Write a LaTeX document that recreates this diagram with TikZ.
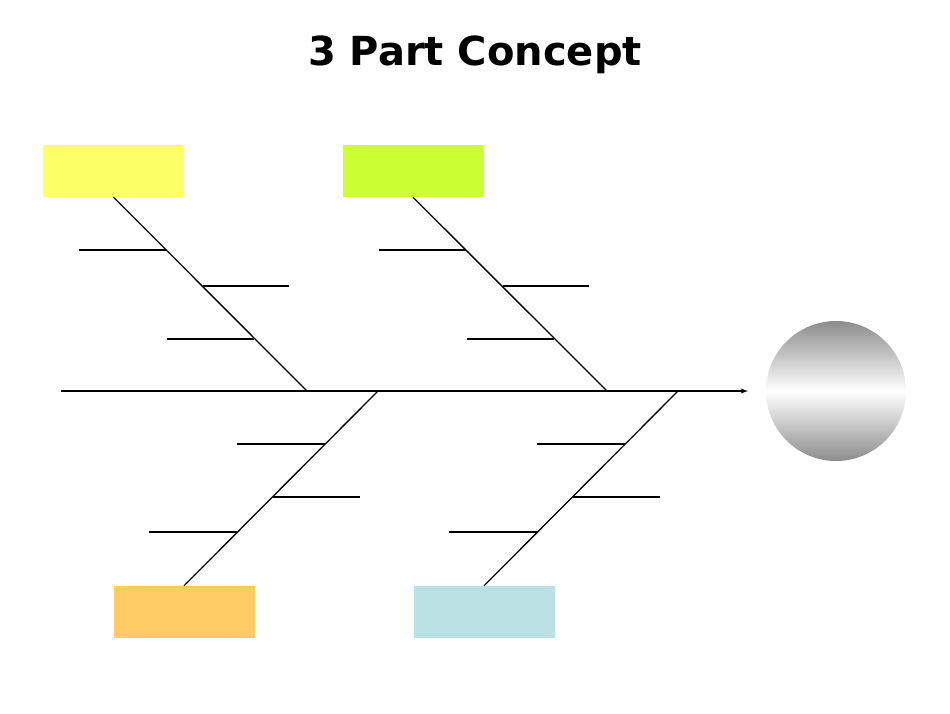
\documentclass[tikz,border=0pt]{standalone}
\usepackage{fontspec}
\setmainfont{DejaVu Sans}
\definecolor{capYellow}{HTML}{FFFF66}
\definecolor{capGreen}{HTML}{CCFF33}
\definecolor{capOrange}{HTML}{FFCC66}
\definecolor{capTeal}{HTML}{BBE0E3}
\tikzset{
  cause/.style={draw=none, minimum width=141pt, minimum height=52pt, inner sep=0pt},
  bone/.style={line width=1.3pt, black},
}
\begin{document}
\begin{tikzpicture}[x=1pt, y=-1pt]
    \useasboundingbox (0,0) rectangle (950,713);
    % Title
    \node[font=\bfseries\fontsize{40}{44}\selectfont] (title) at (475,55) {3 Part Concept};

    % Cause boxes
    \node[cause, fill=capYellow] (c1) at (113.5,171) {};
    \node[cause, fill=capGreen] (c2) at (413,171) {};
    \node[cause, fill=capOrange] (c3) at (184,612) {};
    \node[cause, fill=capTeal] (c4) at (484,612) {};

    % Effect (head)
    \shade[top color=gray!90, bottom color=gray!90, middle color=white] (836,391) circle (70);
    \coordinate (head) at (748,391);

    % Spine
    \coordinate (tail) at (61,391);
    \draw[bone, -latex] (tail) -- (head);

    % Main bones
    \coordinate (j1) at (307,391);
    \coordinate (j2) at (607,391);
    \coordinate (j3) at (378,391);
    \coordinate (j4) at (678,391);
    \draw[bone] (c1.south) -- (j1);
    \draw[bone] (c2.south) -- (j2);
    \draw[bone] (c3.north) -- (j3);
    \draw[bone] (c4.north) -- (j4);

    % Sub-causes
    \foreach \dx in {0,300} {
        \draw[bone] (79+\dx,250) -- (166+\dx,250);
        \draw[bone] (203+\dx,286) -- (289+\dx,286);
        \draw[bone] (167+\dx,339) -- (254+\dx,339);
        \draw[bone] (237+\dx,444) -- (325+\dx,444);
        \draw[bone] (273+\dx,497) -- (360+\dx,497);
        \draw[bone] (149+\dx,532) -- (237+\dx,532);
    }
\end{tikzpicture}
\end{document}
